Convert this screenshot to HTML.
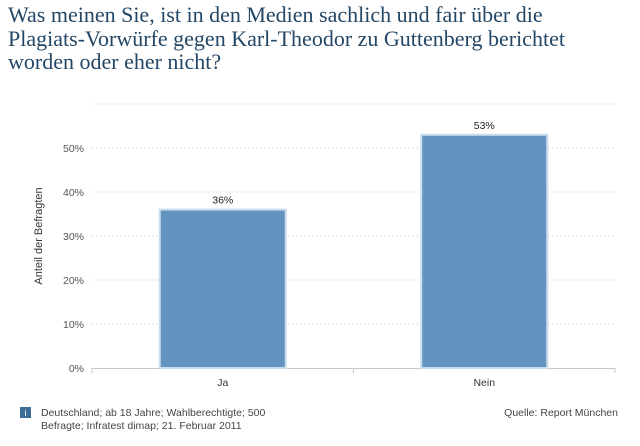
<!DOCTYPE html>
<html><head><meta charset="utf-8"><style>
body{margin:0;width:640px;height:446px;background:#fff;overflow:hidden;font-family:"Liberation Sans",sans-serif}
#title{position:absolute;left:8px;top:3px;width:632px;white-space:nowrap;font-family:"Liberation Serif",serif;font-size:22px;line-height:23.5px;color:#244766}
</style></head><body>
<div id="title">Was meinen Sie, ist in den Medien sachlich und fair über die<br>Plagiats-Vorwürfe gegen Karl-Theodor zu Guttenberg berichtet<br>worden oder eher nicht?</div>
<svg id="chart" width="640" height="446" style="position:absolute;left:0;top:0"></svg>
<script>
const categories=["Ja","Nein"];
const values=[36,53];
const valueLabels=["36%","53%"];
const ticks=[0,10,20,30,40,50,60];
const NS="http://www.w3.org/2000/svg";
const svg=document.getElementById('chart');
const x0=92,x1=615,y0=368,pxPer=4.4;
const y=v=>y0-v*pxPer;
const bw=(x1-x0)/categories.length;
function mk(t,a,txt){const e=document.createElementNS(NS,t);for(const k in a)e.setAttribute(k,a[k]);if(txt!=null)e.textContent=txt;svg.appendChild(e);return e;}
ticks.forEach(t=>{
  if(t>0){const l=mk('line',{x1:x0,x2:x1,y1:y(t),y2:y(t),stroke:'#e2e2e2','stroke-dasharray':'2,2'});
  
  }
  if(t<60){const tx=mk('text',{x:84,y:y(t)+4,'text-anchor':'end','font-size':'10.5',fill:'#555'},t+'%');
  
  }
});
const ax=mk('line',{x1:x0,x2:x1,y1:y0+0.5,y2:y0+0.5,stroke:'#c8c8c8'});


[0,1,2].forEach(i=>{const tk=mk('line',{x1:x0+i*bw,x2:x0+i*bw,y1:y0,y2:y0+5,stroke:'#c8c8c8'});

});
categories.forEach((c,i)=>{
  const cx=x0+bw*(i+0.5),w=126;
  const r=mk('rect',{x:cx-w/2,y:y(values[i]),width:w,height:y0-y(values[i]),fill:'#6394c0',stroke:'#c9dcec','stroke-width':2});
  
  
  const vl=mk('text',{x:cx,y:y(values[i])-6,'text-anchor':'middle','font-size':'10.5',fill:'#222'},valueLabels[i]);
  
  
  const cl=mk('text',{x:cx,y:y0+18,'text-anchor':'middle','font-size':'10.5',fill:'#333'},c);
  
  
});
const yt=mk('text',{x:0,y:0,transform:'translate(42,236) rotate(-90)','text-anchor':'middle','font-size':'11',fill:'#333'},'Anteil der Befragten');


const ib=mk('rect',{x:20,y:407,width:11,height:11,fill:'#3d6e9a'});


const it=mk('text',{x:25.5,y:416,'text-anchor':'middle','font-size':'9',fill:'#fff'},'i');


const n1=mk('text',{x:41,y:416,'font-size':'10.5',fill:'#444'},'Deutschland; ab 18 Jahre; Wahlberechtigte; 500');


const n2=mk('text',{x:41,y:429,'font-size':'10.5',fill:'#444'},'Befragte; Infratest dimap; 21. Februar 2011');


const src=mk('text',{x:618,y:416,'text-anchor':'end','font-size':'10.5',fill:'#444'},'Quelle: Report München');


</script>
</body></html>
